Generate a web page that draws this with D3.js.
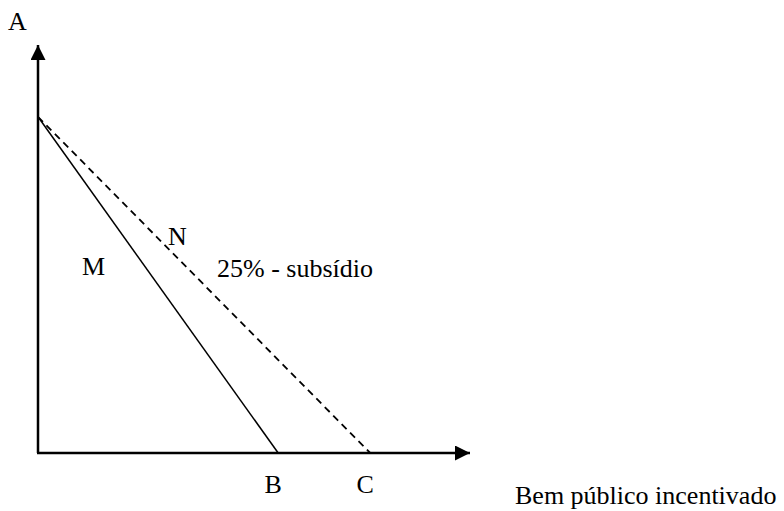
<!DOCTYPE html>
<html lang="pt">
<head>
<meta charset="UTF-8">
<title>Subsídio</title>
<script src="https://d3js.org/d3.v7.min.js"></script>
<style>
  body { margin: 0; background: #fff; }
</style>
</head>
<body>
<svg id="chart" width="784" height="511"></svg>
<script>
// intercepts, in axis units (0..100)
var intercepts = { A: 82.4, B: 55.6, C: 76.9 };
var lineNames = ["M", "N"];
var lineEnds = [intercepts.B, intercepts.C];
var lineDash = [null, "7,5"];
var pointLabels = ["B", "C"];

var svg = d3.select("#chart");
var serif = "'Liberation Serif', 'DejaVu Serif', serif";

var x = d3.scaleLinear().domain([0, 100]).range([38, 470]);
var y = d3.scaleLinear().domain([0, 100]).range([453, 45]);

// arrow heads
var defs = svg.append("defs");
defs.append("marker")
    .attr("id", "arrow")
    .attr("viewBox", "0 0 10 10")
    .attr("refX", 10).attr("refY", 5)
    .attr("markerWidth", 17).attr("markerHeight", 15)
    .attr("markerUnits", "userSpaceOnUse")
    .attr("orient", "auto")
    .append("path")
    .attr("d", "M0,0 L10,5 L0,10 Z")
    .attr("fill", "#000");

// axes
svg.append("line")
    .attr("x1", x(0)).attr("y1", y(0))
    .attr("x2", x(0)).attr("y2", y(100))
    .attr("stroke", "#000").attr("stroke-width", 2.5)
    .attr("marker-end", "url(#arrow)");
svg.append("line")
    .attr("x1", x(0) - 1).attr("y1", y(0))
    .attr("x2", x(100)).attr("y2", y(0))
    .attr("stroke", "#000").attr("stroke-width", 2.5)
    .attr("marker-end", "url(#arrow)");

// budget lines
svg.selectAll(".budget")
    .data(lineEnds)
    .join("line")
    .attr("class", "budget")
    .attr("x1", x(0)).attr("y1", y(intercepts.A))
    .attr("x2", function (d) { return x(d); }).attr("y2", y(0))
    .attr("stroke", "#000")
    .attr("stroke-width", function (d, i) { return lineDash[i] ? 1.8 : 1.5; })
    .attr("stroke-dasharray", function (d, i) { return lineDash[i]; });

function label(px, py, txt, anchor) {
    return svg.append("text")
        .attr("x", px).attr("y", py)
        .attr("text-anchor", anchor || "start")
        .attr("font-family", serif)
        .attr("font-size", 26)
        .attr("fill", "#000")
        .text(txt);
}

label(8, 30, "A");
pointLabels.forEach(function (d) {
    label(x(intercepts[d]) - 5, 493, d, "middle");
});
label(82, 275, lineNames[0]);
label(168, 245, lineNames[1]);
label(217, 277, "25% - subsídio");
label(515, 504, "Bem público incentivado");
</script>
</body>
</html>
